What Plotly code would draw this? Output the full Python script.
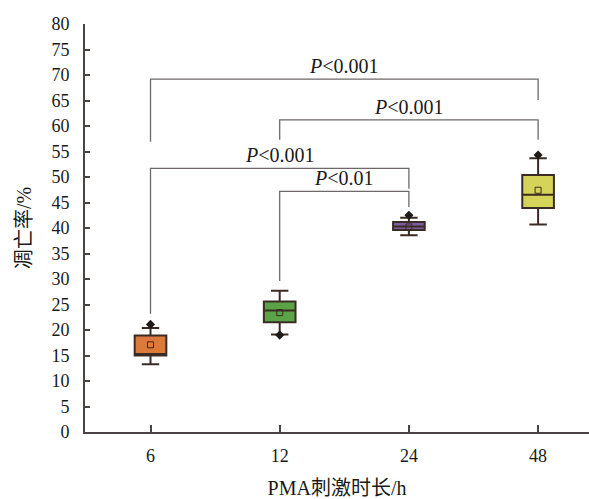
import plotly.graph_objects as go

# ---------------- data ----------------
categories = ["6", "12", "24", "48"]
q1 = [15.0, 21.5, 39.6, 43.9]
median = [15.3, 23.8, 40.3, 46.5]
q3 = [18.9, 25.6, 41.2, 50.4]
lower_whisker = [13.3, 19.1, 38.6, 40.7]
upper_whisker = [20.4, 27.7, 42.0, 53.7]
means = [17.1, 23.4, 40.2, 47.4]
extreme_vals = [21.1, 19.0, 42.5, 54.3]
box_colors = ["#DC7A3C", "#5BA346", "#7C5C9E", "#D6D35A"]

# significance brackets (group indices, heights)
br_left = [0, 1, 0, 1]
br_right = [3, 3, 2, 2]
br_top = [69.2, 61.2, 51.7, 47.2]
br_left_end = [56.9, 57.3, 23.2, 29.6]
br_right_end = [65.1, 57.3, 47.7, 44.1]
br_labels = ["<i>P</i>&lt;0.001", "<i>P</i>&lt;0.001", "<i>P</i>&lt;0.001", "<i>P</i>&lt;0.01"]

yticks = list(range(0, 81, 5))

SERIF = "Liberation Serif, Times New Roman, Noto Sans CJK SC, serif"
AXIS_COLOR = "#4a4444"
EDGE = "#3a2c24"

fig = go.Figure()

# brackets
for i in range(len(br_left)):
    xl, xr = br_left[i], br_right[i]
    fig.add_trace(go.Scatter(
        x=[xl, xl, xr, xr],
        y=[br_left_end[i], br_top[i], br_top[i], br_right_end[i]],
        mode="lines", line=dict(color="#6e6868", width=1.3),
        showlegend=False, hoverinfo="skip"))
    fig.add_annotation(
        x=(xl + xr) / 2, y=br_top[i], xref="x", yref="y",
        text=br_labels[i], showarrow=False, yanchor="middle", yshift=13,
        font=dict(family=SERIF, size=20, color="#1a1a1a"))

# boxes
for i in range(len(categories)):
    fig.add_trace(go.Box(
        x=[i], q1=[q1[i]], median=[median[i]], q3=[q3[i]],
        lowerfence=[lower_whisker[i]], upperfence=[upper_whisker[i]],
        width=0.245, whiskerwidth=0.55,
        fillcolor=box_colors[i], line=dict(color=EDGE, width=2),
        boxpoints=False, showlegend=False, hoverinfo="skip"))

# mean markers
fig.add_trace(go.Scatter(
    x=list(range(len(categories))), y=means, mode="markers",
    marker=dict(symbol="square-open", size=6, color=EDGE, line=dict(width=1)),
    showlegend=False, hoverinfo="skip"))

# extreme markers
fig.add_trace(go.Scatter(
    x=list(range(len(categories))), y=extreme_vals, mode="markers",
    marker=dict(symbol="diamond", size=7, color="#1e1a18"),
    showlegend=False, hoverinfo="skip"))

fig.update_layout(
    width=589, height=499,
    margin=dict(l=85, r=0, t=24, b=64),
    paper_bgcolor="white", plot_bgcolor="white",
    font=dict(family=SERIF, size=18, color="#1a1a1a"),
    xaxis=dict(
        range=[-0.507, 3.394], tickmode="array",
        tickvals=list(range(len(categories))), ticktext=categories,
        ticks="inside", ticklen=7, tickwidth=1.5, tickcolor=AXIS_COLOR,
        showline=True, linecolor=AXIS_COLOR, linewidth=2,
        showgrid=False, zeroline=False, mirror=False,
        tickfont=dict(family=SERIF, size=18),
        ticklabelstandoff=6,
        title=dict(text="PMA刺激时长/h", font=dict(family=SERIF, size=20), standoff=19),
    ),
    yaxis=dict(
        range=[0, 80], tickmode="array", tickvals=yticks,
        ticks="inside", ticklen=5, tickwidth=1.5, tickcolor=AXIS_COLOR,
        showline=True, linecolor=AXIS_COLOR, linewidth=2,
        showgrid=False, zeroline=False, mirror=False,
        tickfont=dict(family=SERIF, size=18),
        ticklabelstandoff=10,
        title=dict(text="凋亡率/%", font=dict(family=SERIF, size=20), standoff=14),
    ),
)

fig.write_html("out.html")
